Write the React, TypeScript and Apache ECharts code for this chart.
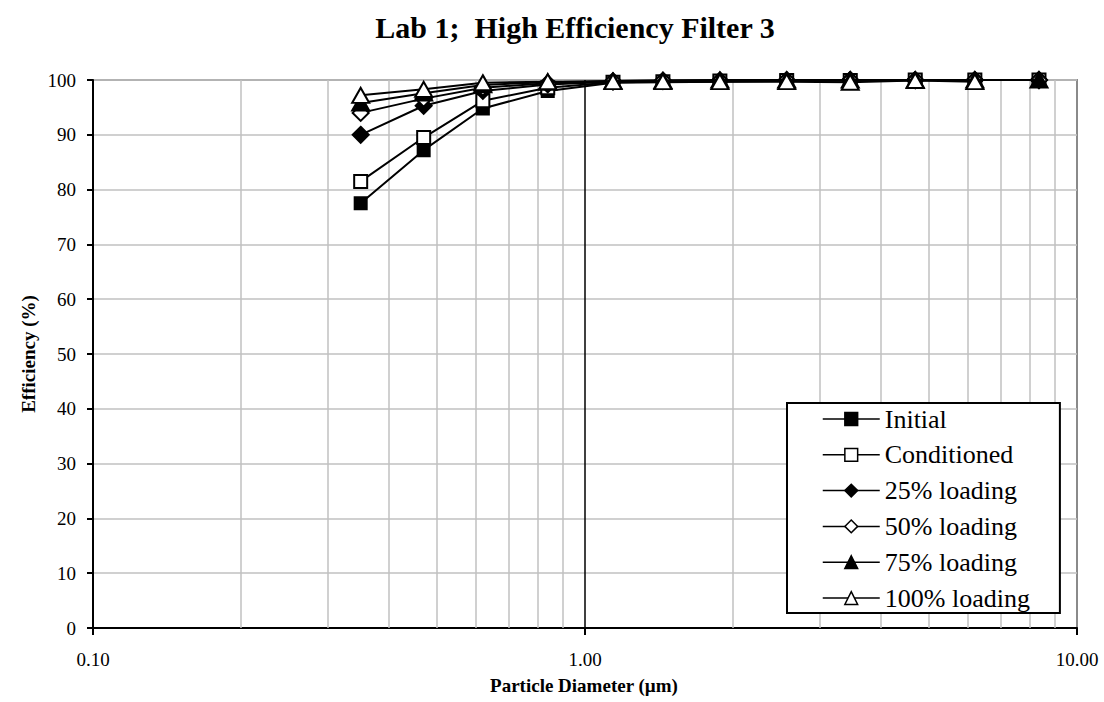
import { useEffect, useRef } from "react";
import * as echarts from "echarts";

// Particle size channels (µm) and fractional efficiency (%) for each test stage
const diameters = [0.35, 0.47, 0.62, 0.84, 1.14, 1.44, 1.88, 2.57, 3.46, 4.69, 6.2, 8.37];
const initial = [77.5, 87.2, 94.8, 98.0, 99.5, 99.6, 99.7, 99.8, 99.9, 99.9, 100, 100];
const conditioned = [81.5, 89.5, 96.2, 98.6, 99.6, 99.7, 99.8, 99.9, 99.9, 100, 100, 100];
const loading25 = [90.0, 95.3, 98.0, 99.2, 99.7, 99.8, 99.9, 99.9, 100, 100, 100, 100];
const loading50 = [94.0, 96.6, 98.6, 99.4, 99.8, 99.9, 99.9, 100, 100, 100, 100, 100];
const loading75 = [95.8, 97.6, 99.1, 99.6, 99.8, 99.9, 100, 100, 100, 100, 100, 100];
const loading100 = [97.2, 98.3, 99.5, 99.7, 99.7, 99.7, 99.7, 99.7, 99.6, 99.9, 99.7, null];

const seriesNames = ["Initial", "Conditioned", "25% loading", "50% loading", "75% loading", "100% loading"];
const seriesValues = [initial, conditioned, loading25, loading50, loading75, loading100];

// Log-axis minor gridline positions and the emphasised decade line
const minorGrid = [0.2, 0.3, 0.4, 0.5, 0.6, 0.7, 0.8, 0.9, 2, 3, 4, 5, 6, 7, 8, 9];
const decadeLine = [1];

const FONT = "'Liberation Serif', 'Times New Roman', serif";

const markerStyles = [
  { symbol: "rect", size: 12, fill: "#000" },
  { symbol: "rect", size: 13, fill: "#fff" },
  { symbol: "diamond", size: 16, fill: "#000" },
  { symbol: "diamond", size: 16, fill: "#fff" },
  { symbol: "triangle", size: [17, 15], fill: "#000" },
  { symbol: "triangle", size: [17, 15], fill: "#fff" },
];

export default function App() {
  const ref = useRef<HTMLDivElement>(null);

  useEffect(() => {
    if (!ref.current) return;
    const chart = echarts.init(ref.current, undefined, { renderer: "svg" });

    const series: any[] = seriesNames.map((name, i) => {
      const m = markerStyles[i];
      const pts = diameters
        .map((d, k) => [d, seriesValues[i][k]])
        .filter((p) => p[1] !== null && p[1] !== undefined);
      return {
        name,
        type: "line",
        data: pts,
        symbol: m.symbol,
        symbolSize: m.size,
        showAllSymbol: true,
        z: 3 + i,
        lineStyle: { color: "#000", width: 2 },
        itemStyle: { color: m.fill, borderColor: "#000", borderWidth: 2 },
        emphasis: { disabled: true },
      };
    });

    // gridlines drawn through the x axis scale, kept beneath the data
    series.push({
      name: "__grid",
      type: "line",
      data: [],
      silent: true,
      z: 1,
      markLine: {
        silent: true,
        symbol: ["none", "none"],
        label: { show: false },
        animation: false,
        z: 1,
        data: [
          ...minorGrid.map((v) => ({ xAxis: v, lineStyle: { color: "#c0c0c0", width: 1.5, type: "solid" } })),
          ...decadeLine.map((v) => ({ xAxis: v, lineStyle: { color: "#000", width: 1.5, type: "solid" } })),
        ],
      },
    });

    chart.setOption({
      animation: false,
      backgroundColor: "#fff",
      textStyle: { fontFamily: FONT },
      grid: {
        left: 93,
        right: 27,
        top: 80,
        bottom: 74,
        show: true,
        borderColor: "#8a8a8a",
        borderWidth: 2,
        backgroundColor: "transparent",
      },
      legend: {
        left: 787,
        top: 403,
        orient: "vertical",
        backgroundColor: "#fff",
        borderColor: "#000",
        borderWidth: 2,
        borderRadius: 0,
        padding: [3, 30, 2, 35],
        itemWidth: 57,
        itemHeight: 16,
        itemGap: 9.8,
        itemTextGap: 5,
        selectedMode: false,
        textStyle: { fontFamily: FONT, fontSize: 26, color: "#000", lineHeight: 26 },
        data: seriesNames.map((name, i) => ({
          name,
          itemStyle: { color: markerStyles[i].fill, borderColor: "#000", borderWidth: 1.5 },
          lineStyle: { color: "#000", width: 1.5 },
        })),
      },
      xAxis: {
        type: "log",
        logBase: 10,
        min: 0.1,
        max: 10,
        axisLine: { lineStyle: { color: "#000", width: 2 } },
        axisTick: { show: true, inside: false, length: 7, lineStyle: { color: "#000", width: 2 } },
        axisLabel: {
          fontFamily: FONT,
          fontSize: 19,
          color: "#000",
          margin: 22,
          formatter: (v: number) => v.toFixed(2),
        },
        splitLine: { show: false },
        minorTick: { show: false },
      },
      yAxis: {
        type: "value",
        min: 0,
        max: 100,
        interval: 10,
        axisLine: { show: true, lineStyle: { color: "#000", width: 2 } },
        axisTick: { show: true, inside: false, length: 6, lineStyle: { color: "#000", width: 2 } },
        axisLabel: { fontFamily: FONT, fontSize: 19, color: "#000", margin: 17 },
        splitLine: { show: true, lineStyle: { color: "#c0c0c0", width: 1.5 } },
      },
      graphic: [
        {
          type: "text",
          x: 575,
          y: 27,
          style: {
            text: "Lab 1;  High Efficiency Filter 3",
            fontFamily: FONT,
            fontWeight: "bold",
            fontSize: 30,
            fill: "#000",
            align: "center",
            verticalAlign: "middle",
          },
        },
        {
          type: "text",
          x: 28,
          y: 354,
          rotation: Math.PI / 2,
          style: {
            text: "Efficiency (%)",
            fontFamily: FONT,
            fontWeight: "bold",
            fontSize: 19,
            fill: "#000",
            align: "center",
            verticalAlign: "middle",
          },
        },
        {
          type: "text",
          x: 584,
          y: 685,
          style: {
            text: "Particle Diameter (µm)",
            fontFamily: FONT,
            fontWeight: "bold",
            fontSize: 19,
            fill: "#000",
            align: "center",
            verticalAlign: "middle",
          },
        },
      ],
      series,
    });

    return () => chart.dispose();
  }, []);

  return (
    <div
      ref={ref}
      style={{ position: "fixed", left: 0, top: 0, width: 1104, height: 702 }}
    />
  );
}
